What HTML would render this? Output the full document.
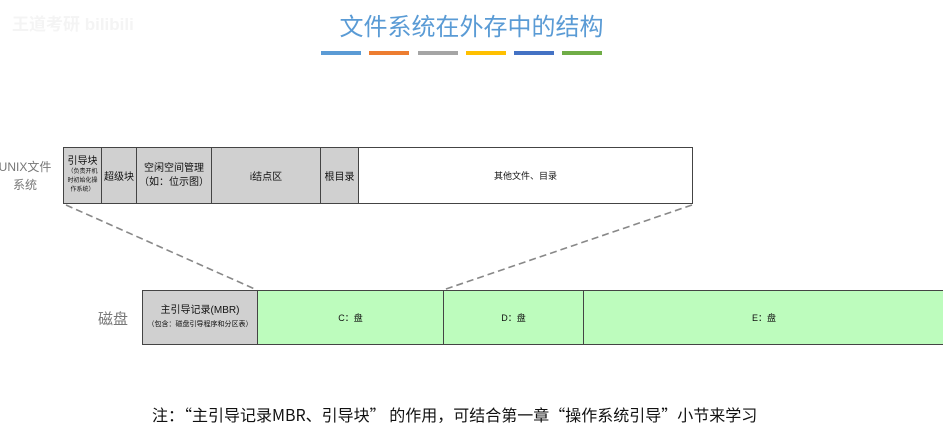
<!DOCTYPE html>
<html><head><meta charset="utf-8"><style>
body{margin:0;width:943px;height:432px;background:#fff;position:relative;overflow:hidden;font-family:"Liberation Sans","Noto Sans CJK SC",sans-serif;}
.a{position:absolute;}
.c{position:absolute;box-sizing:border-box;border:1px solid #444;display:flex;flex-direction:column;align-items:center;justify-content:center;text-align:center;color:#111;}
.g{background:#d0d0d0}.w{background:#fff}.gr{background:#bdfcbd}
.bar{position:absolute;top:51px;height:4px;width:40px}
</style></head><body>
<div class="a" style="left:12px;top:10px;font-size:17px;color:#f4f4f4;font-weight:bold">王道考研 bilibili</div>
<div class="a" style="left:0;width:943px;top:7px;text-align:center;font-size:24px;color:#5a9bd5">文件系统在外存中的结构</div>
<div class="bar" style="left:321px;background:#5b9bd5"></div>
<div class="bar" style="left:369px;background:#ed7d31"></div>
<div class="bar" style="left:418px;background:#a5a5a5"></div>
<div class="bar" style="left:466px;background:#ffc000"></div>
<div class="bar" style="left:514px;background:#4472c4"></div>
<div class="bar" style="left:562px;background:#70ad47"></div>

<div class="a" style="left:-6px;top:158px;width:62px;text-align:center;font-size:12px;color:#777;line-height:18px;white-space:nowrap">UNIX文件<br>系统</div>
<div class="c g" style="left:63px;top:147px;width:39px;height:57px;font-size:10px;line-height:12px">引导块<span style="font-size:6px;line-height:9px">（负责开机<br>时初始化操<br>作系统）</span></div>
<div class="c g" style="left:101px;top:147px;width:36px;height:57px;font-size:10px">超级块</div>
<div class="c g" style="left:136px;top:147px;width:76px;height:57px;font-size:10px;line-height:14px">空闲空间管理<br>（如：位示图）</div>
<div class="c g" style="left:211px;top:147px;width:110px;height:57px;font-size:10px">i结点区</div>
<div class="c g" style="left:320px;top:147px;width:39px;height:57px;font-size:10px">根目录</div>
<div class="c w" style="left:358px;top:147px;width:335px;height:57px;font-size:9px">其他文件、目录</div>

<svg class="a" style="left:0;top:0" width="943" height="432"><g stroke="#888" stroke-width="1.6" stroke-dasharray="7,4" fill="none"><line x1="66" y1="205" x2="257" y2="290"/><line x1="692" y1="205" x2="443" y2="290"/></g></svg>

<div class="a" style="left:98px;top:308px;font-size:15px;color:#777">磁盘</div>
<div class="c g" style="left:142px;top:290px;width:116px;height:55px;font-size:10px;line-height:14px">主引导记录(MBR)<span style="font-size:7px">（包含：磁盘引导程序和分区表）</span></div>
<div class="c gr" style="left:257px;top:290px;width:187px;height:55px;font-size:9px">C：盘</div>
<div class="c gr" style="left:443px;top:290px;width:141px;height:55px;font-size:9px">D：盘</div>
<div class="c gr" style="left:583px;top:290px;width:362px;height:55px;font-size:9px">E：盘</div>

<div class="a" style="left:152px;top:402px;font-size:16px;color:#111;white-space:nowrap;font-family:'Noto Sans CJK SC',sans-serif">注：“主引导记录MBR、引导块” 的作用，可结合第一章“操作系统引导”小节来学习</div>
</body></html>
